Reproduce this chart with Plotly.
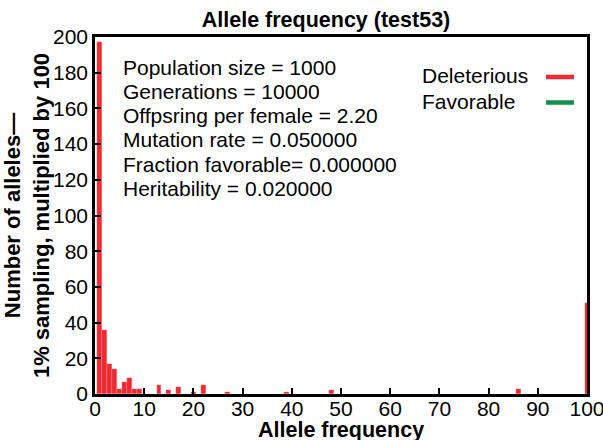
import plotly.graph_objects as go

# ---- data ----
freq_bins = [1, 2, 3, 4, 5, 6, 7, 8, 9, 13, 15, 17, 20, 22, 27, 39, 48, 86, 100]
deleterious = [197, 36, 17, 14, 3, 7, 9, 3, 3, 5, 2, 4, 1, 5, 1, 1, 2, 3, 51]
favorable_bins = []
favorable = []

x_ticks = [0, 10, 20, 30, 40, 50, 60, 70, 80, 90, 100]
y_ticks = [0, 20, 40, 60, 80, 100, 120, 140, 160, 180, 200]

info_lines = [
    "Population size = 1000",
    "Generations = 10000",
    "Offpsring per female = 2.20",
    "Mutation rate = 0.050000",
    "Fraction favorable= 0.000000",
    "Heritability = 0.020000",
]
legend_names = ["Deleterious", "Favorable"]
colors = ["#EE2A33", "#149049"]

FONT = "Liberation Sans, Arial, Helvetica, sans-serif"
FS = 21

fig = go.Figure()
fig.add_trace(go.Bar(x=freq_bins, y=deleterious, width=1, name="Deleterious",
                     marker=dict(color=colors[0], line=dict(width=0.4, color="rgba(255,255,255,0.35)")),
                     showlegend=False))
fig.add_trace(go.Bar(x=favorable_bins, y=favorable, width=1, name="Favorable",
                     marker=dict(color=colors[1]), showlegend=False))

# layout geometry (pixels)
W, H = 603, 440
L, R, T, B = 95, 16, 37, 46
pw, ph = W - L - R, H - T - B

def py(ypix):
    return (H - B - ypix) / ph

def px(xpix):
    return (xpix - L) / pw

annotations = []
for i, line in enumerate(info_lines):
    annotations.append(dict(
        text=line, xref="paper", yref="paper", x=px(121), y=py(67 + 24.3 * i),
        xanchor="left", yanchor="middle", showarrow=False,
        font=dict(family=FONT, size=FS, color="black")))

shapes = []
for i, (nm, col) in enumerate(zip(legend_names, colors)):
    yc = 77 + 25.5 * i
    annotations.append(dict(
        text=nm, xref="paper", yref="paper", x=px(420), y=py(yc - 1),
        xanchor="left", yanchor="middle", showarrow=False,
        font=dict(family=FONT, size=FS, color="black")))
    shapes.append(dict(type="line", xref="paper", yref="paper",
                       x0=px(546), x1=px(574), y0=py(yc), y1=py(yc),
                       line=dict(color=col, width=4.5)))

# x-axis title as annotation
annotations.append(dict(
    text="<b>Allele frequency</b>", xref="paper", yref="paper", x=0.5, y=py(430),
    xanchor="center", yanchor="middle", showarrow=False,
    font=dict(family=FONT, size=21.5, color="black")))

fig.update_layout(
    width=W, height=H,
    margin=dict(l=L, r=R, t=T, b=B),
    paper_bgcolor="white", plot_bgcolor="white",
    bargap=0, barmode="overlay",
    font=dict(family=FONT, size=FS, color="black"),
    title=dict(text="<b>Allele frequency (test53)</b>", x=326 / W, xanchor="center",
               xref="container", y=1 - 19 / H, yanchor="middle", yref="container",
               font=dict(family=FONT, size=21.5, color="black")),
    annotations=annotations,
    shapes=shapes,
)
fig.update_xaxes(range=[0, 100], tickvals=x_ticks, ticks="inside", ticklen=6, tickwidth=2,
                 tickcolor="black", showline=True, linewidth=2.5, linecolor="black",
                 mirror=True, showgrid=False, zeroline=False, automargin=False,
                 ticklabeloverflow="allow", ticklabelstandoff=-6,
                 tickfont=dict(family=FONT, size=FS))
fig.update_yaxes(range=[0, 200], tickvals=y_ticks, ticks="inside", ticklen=6, tickwidth=2,
                 tickcolor="black", showline=True, linewidth=2.5, linecolor="black",
                 mirror=True, showgrid=False, zeroline=False, automargin=False,
                 tickfont=dict(family=FONT, size=FS),
                 title=dict(text="<b>Number of alleles—<br>1% sampling, multiplied by 100</b>",
                            standoff=0, font=dict(family=FONT, size=22)))

fig.write_html("out.html")
